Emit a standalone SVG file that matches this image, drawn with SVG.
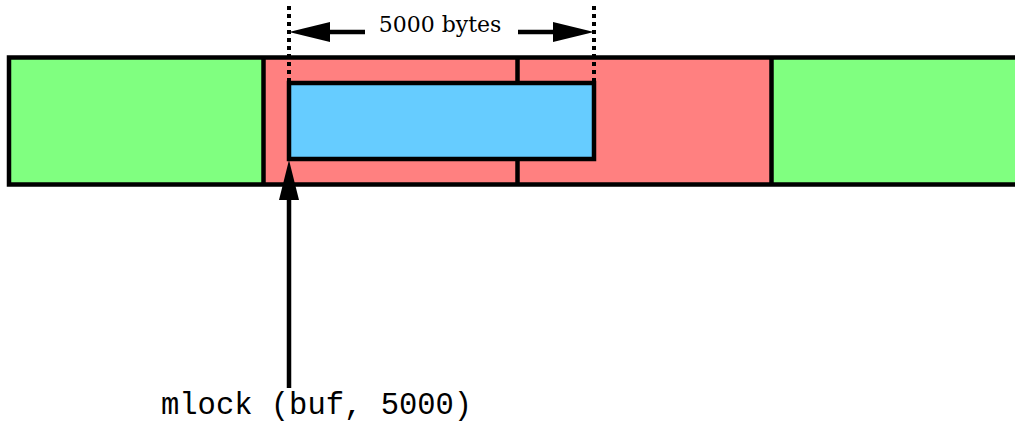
<svg xmlns="http://www.w3.org/2000/svg" width="1015" height="422" viewBox="0 0 1015 422">
  <style>
    .page-free { fill: #80ff80; }
    .page-locked { fill: #ff8080; }
    .buf { fill: #66ccff; stroke: #000; stroke-width: 4.5; }
    .line { stroke: #000; stroke-width: 4.5; fill: none; }
    .dots { stroke: #000; stroke-width: 4; stroke-dasharray: 4 4; fill: none; }
    .head { fill: #000; }
    .dim { font-family: "DejaVu Serif", "Liberation Serif", serif; font-size: 22px; fill: #000; }
    .code { font-family: "Liberation Mono", "DejaVu Sans Mono", monospace; font-size: 30.5px; fill: #000; }
  </style>

  <!-- memory pages -->
  <g id="page-left">
    <rect class="page-free" x="9" y="57.5" width="254.5" height="127"/>
  </g>
  <g id="page-locked-1">
    <rect class="page-locked" x="263.5" y="57.5" width="254" height="127"/>
  </g>
  <g id="page-locked-2">
    <rect class="page-locked" x="517.5" y="57.5" width="254" height="127"/>
  </g>
  <g id="page-right">
    <rect class="page-free" x="771.5" y="57.5" width="250" height="127"/>
  </g>
  <!-- page outlines -->
  <g id="page-outline">
    <path class="line" d="M1020 57.5 H9 V184.5 H1020"/>
    <line class="line" x1="263.5" y1="57.5" x2="263.5" y2="184.5"/>
    <line class="line" x1="517.5" y1="57.5" x2="517.5" y2="184.5"/>
    <line class="line" x1="771.5" y1="57.5" x2="771.5" y2="184.5"/>
  </g>

  <!-- buffer -->
  <g id="buffer">
    <rect class="buf" x="289" y="83" width="305" height="76"/>
  </g>

  <!-- size dimension and call arrow -->
  <g id="connectors">
    <line class="dots" x1="289" y1="6" x2="289" y2="81"/>
    <line class="dots" x1="594" y1="6" x2="594" y2="81"/>
    <line class="line" x1="320" y1="32" x2="365" y2="32"/>
    <polygon class="head" points="289,32 330,22 330,42"/>
    <line class="line" x1="518" y1="32" x2="560" y2="32"/>
    <polygon class="head" points="594,32 553,22 553,42"/>
    <line class="line" x1="289" y1="388" x2="289" y2="195"/>
    <polygon class="head" points="289,160 279,200 299,200"/>
  </g>

  <g id="labels">
    <text class="dim" x="440" y="32" text-anchor="middle">5000 bytes</text>
    <text class="code" x="161" y="414">mlock (buf, 5000)</text>
  </g>
</svg>
